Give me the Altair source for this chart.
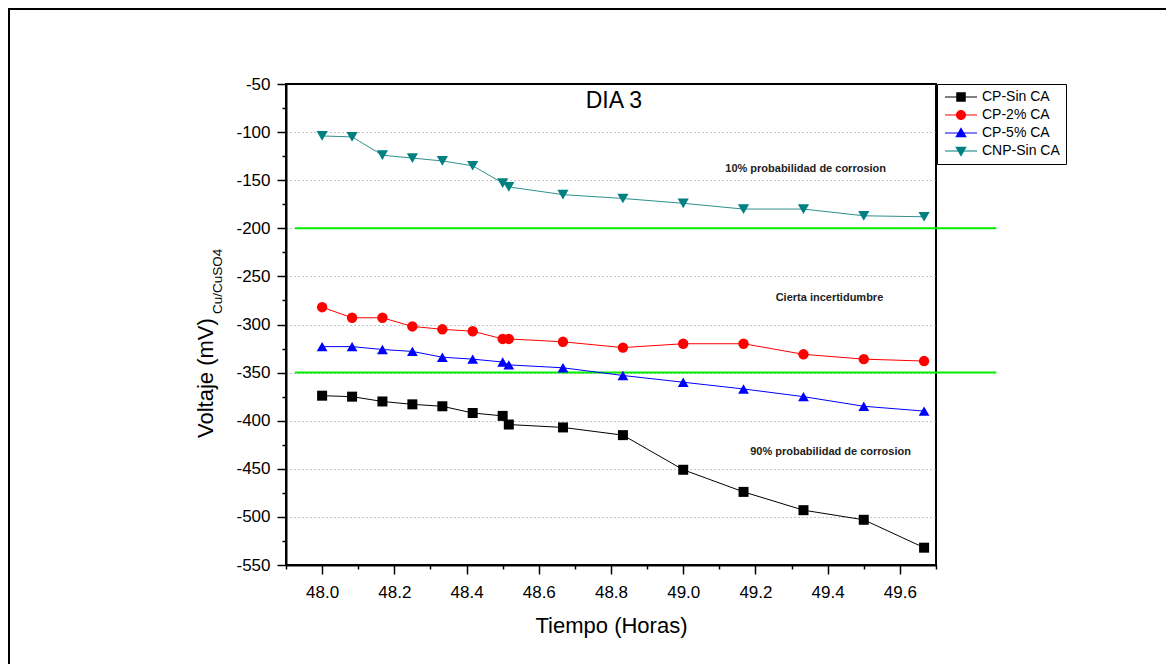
import altair as alt
import pandas as pd

# ---------------- data ----------------
hours = [48.0, 48.083, 48.167, 48.25, 48.333, 48.417, 48.5, 48.517,
         48.667, 48.833, 49.0, 49.167, 49.333, 49.5, 49.667]
series_names = ["CP-Sin CA", "CP-2% CA", "CP-5% CA", "CNP-Sin CA"]
cp_sin_ca = [-374, -375, -380, -383, -385, -392, -395, -404,
             -407, -415, -451, -474, -493, -503, -532]
cp_2_ca = [-282, -293, -293, -302, -305, -307, -315, -315,
           -318, -324, -320, -320, -331, -336, -338]
cp_5_ca = [-323, -323, -326, -328, -334, -336, -339, -342,
           -345, -353, -360, -367, -375, -385, -390]
cnp_sin_ca = [-104, -105, -124, -127, -130, -135, -153, -157,
              -165, -169, -174, -180, -180, -187, -188]

thresholds = [-200, -350]
threshold_x_start = 47.925
threshold_x_end = 49.867

x_ticks = [47.9, 48.0, 48.1, 48.2, 48.3, 48.4, 48.5, 48.6, 48.7, 48.8,
           48.9, 49.0, 49.1, 49.2, 49.3, 49.4, 49.5, 49.6, 49.7]
y_ticks = list(range(-550, -49, 25))

ann_text = ["10% probabilidad de corrosion", "Cierta incertidumbre",
            "90% probabilidad de corrosion"]
ann_x = [49.339, 49.405, 49.408]
ann_y = [-138, -272, -433]

panel_title = "DIA 3"
panel_title_x = 48.808
panel_title_y = -68

# ---------------- tables ----------------
rows = []
for name, vals in zip(series_names, [cp_sin_ca, cp_2_ca, cp_5_ca, cnp_sin_ca]):
    for h, v in zip(hours, vals):
        rows.append({"Serie": name, "Horas": h, "Voltaje": v})
df = pd.DataFrame(rows)
df_thr = pd.DataFrame({"umbral": thresholds})
df_ann = pd.DataFrame({"texto": ann_text, "x": ann_x, "y": ann_y})
df_one = pd.DataFrame({"a": [0]})

FONT = "Liberation Sans"
marker_colors = ["#000000", "#ff0000", "#0000ff", "#008080"]
line_colors = ["#000000", "#ff0000", "#0000ff", "#2e8f8f"]
shapes = ["square", "circle", "triangle-up", "triangle-down"]
sizes = [100, 125, 150, 150]

line_seg = "M-3.2,-0.1 L3.2,-0.1 L3.2,0.1 L-3.2,0.1 Z "
legend_paths = [
    line_seg + "M-0.95,-0.95 L0.95,-0.95 L0.95,0.95 L-0.95,0.95 Z",
    line_seg + "M1,0 A1,1 0 1 1 -1,0 A1,1 0 1 1 1,0 Z",
    line_seg + "M0,-1.15 L1.15,0.85 L-1.15,0.85 Z",
    line_seg + "M0,1.15 L-1.15,-0.85 L1.15,-0.85 Z",
]

W, H = 650, 481

x_scale = alt.Scale(domain=[47.9, 49.7], nice=False, zero=False)
y_scale = alt.Scale(domain=[-550, -50], nice=False, zero=False)

x_major = "abs(datum.value*5 - round(datum.value*5)) < 0.01"
y_major = "datum.value % 50 == 0"

x_axis = alt.Axis(
    values=x_ticks,
    labelExpr=f"({x_major}) ? format(datum.value, '.1f') : ''",
    tickSize={"condition": {"test": x_major, "value": 9}, "value": 4},
    grid=False,
    title="Tiempo (Horas)",
    titleFontSize=22, titleFont=FONT, titleFontWeight="normal", titleColor="black",
    titlePadding=15,
    labelFont=FONT, labelFontSize=17, labelColor="black", labelPadding=10,
    labelFlush=False, labelOverlap=False,
    domainColor="black", domainWidth=2, tickColor="black", tickWidth=1.5,
)
y_axis = alt.Axis(
    values=y_ticks,
    labelExpr=f"({y_major}) ? ('' + datum.value) : ''",
    tickSize={"condition": {"test": y_major, "value": 9}, "value": 4},
    grid=True,
    gridColor="#8a8a8a", gridDash=[1, 3], gridWidth=1,
    gridOpacity={"condition": {"test": f"{y_major} && datum.value > -550 && datum.value < -50",
                               "value": 1}, "value": 0},
    title=None,
    labelFont=FONT, labelFontSize=17, labelColor="black", labelPadding=7,
    labelFlush=False, labelOverlap=False,
    domainColor="black", domainWidth=2, tickColor="black", tickWidth=1.5,
)

base = alt.Chart(df)

threshold_rules = alt.Chart(df_thr).mark_rule(color="#00ee00", strokeWidth=2, clip=False).encode(
    y=alt.Y("umbral:Q", scale=y_scale, axis=y_axis),
    x=alt.datum(threshold_x_start, scale=x_scale, axis=x_axis),
    x2=alt.datum(threshold_x_end),
)

lines = base.mark_line(strokeWidth=1).encode(
    x=alt.X("Horas:Q", scale=x_scale, axis=x_axis),
    y=alt.Y("Voltaje:Q", scale=y_scale, axis=y_axis),
    color=alt.Color("Serie:N", scale=alt.Scale(domain=series_names, range=line_colors), legend=None),
    detail="Serie:N",
)

points = base.mark_point(filled=True, opacity=1).encode(
    x=alt.X("Horas:Q", scale=x_scale, axis=x_axis),
    y=alt.Y("Voltaje:Q", scale=y_scale, axis=y_axis),
    color=alt.Color("Serie:N", scale=alt.Scale(domain=series_names, range=marker_colors), legend=None),
    shape=alt.Shape("Serie:N", scale=alt.Scale(domain=series_names, range=shapes), legend=None),
    size=alt.Size("Serie:N", scale=alt.Scale(domain=series_names, range=sizes), legend=None),
)

leg = dict(
    orient="none", legendX=W + 1, legendY=0, title=None,
    strokeColor="black", fillColor="white", padding=6,
    labelFont=FONT, labelFontSize=14, labelColor="black",
    rowPadding=4, symbolSize=100, symbolStrokeWidth=0,
    symbolOffset=11, labelOffset=14,
)
legend_layer = base.transform_filter("false").mark_point(
    filled=True, opacity=1, size=100, strokeWidth=0
).encode(
    x=alt.X("Horas:Q", scale=x_scale, axis=x_axis),
    y=alt.Y("Voltaje:Q", scale=y_scale, axis=y_axis),
    color=alt.Color("Serie:N", scale=alt.Scale(domain=series_names, range=marker_colors),
                    legend=alt.Legend(**leg)),
    shape=alt.Shape("Serie:N", scale=alt.Scale(domain=series_names, range=legend_paths),
                    legend=alt.Legend(**leg)),
)

annotations = alt.Chart(df_ann).mark_text(
    font=FONT, fontSize=11, fontWeight="bold", color="#222222", align="center", baseline="middle"
).encode(
    x=alt.X("x:Q", scale=x_scale, axis=x_axis),
    y=alt.Y("y:Q", scale=y_scale, axis=y_axis),
    text="texto:N",
)

title_mark = alt.Chart(df_one).mark_text(
    font=FONT, fontSize=23, color="black", align="center", baseline="middle"
).encode(
    x=alt.datum(panel_title_x, scale=x_scale, axis=x_axis),
    y=alt.datum(panel_title_y, scale=y_scale, axis=y_axis),
    text=alt.value(panel_title),
)

ytitle_main = alt.Chart(df_one).mark_text(
    font=FONT, fontSize=22, color="black", align="left", baseline="middle", angle=270
).encode(x=alt.value(-80), y=alt.value(354), text=alt.value("Voltaje (mV)"))

ytitle_sub = alt.Chart(df_one).mark_text(
    font=FONT, fontSize=13.5, color="black", align="left", baseline="middle", angle=270
).encode(x=alt.value(-68), y=alt.value(230), text=alt.value("Cu/CuSO4"))

frame_top = alt.Chart(df_one).mark_rule(color="black", strokeWidth=2, clip=False).encode(
    x=alt.value(-277), x2=alt.value(W + 230), y=alt.value(-75))
frame_left = alt.Chart(df_one).mark_rule(color="black", strokeWidth=2, clip=False).encode(
    x=alt.value(-277), y=alt.value(-76), y2=alt.value(H + 99))

chart = alt.layer(
    threshold_rules, lines, points, legend_layer, annotations, title_mark,
    ytitle_main, ytitle_sub, frame_top, frame_left,
).resolve_scale(
    color="independent", shape="independent", size="independent"
).properties(
    width=W, height=H,
    padding={"left": 278, "top": 76, "right": 230, "bottom": 99},
    autosize=alt.AutoSizeParams(type="none"),
).configure_view(
    stroke="black", strokeWidth=2
)

chart.save("out.html", embed_options={"renderer": "svg", "actions": False})
